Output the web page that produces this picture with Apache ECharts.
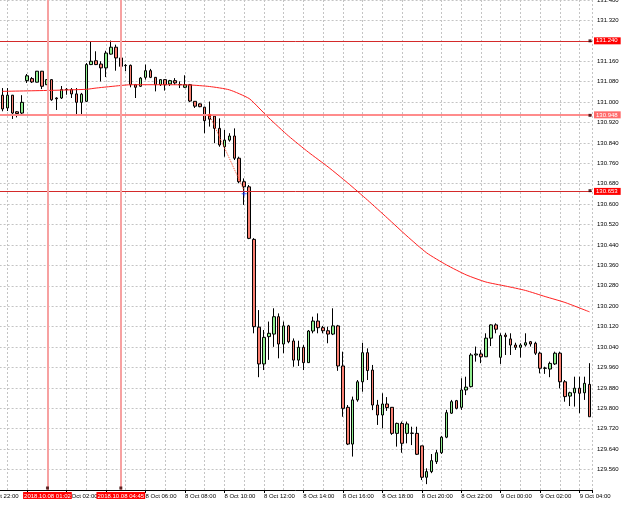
<!DOCTYPE html>
<html>
<head>
<meta charset="utf-8">
<script src="https://cdn.jsdelivr.net/npm/echarts@6/dist/echarts.min.js"></script>
<style>
  html, body { margin: 0; padding: 0; background: #fff; }
  #chart { width: 625px; height: 505px; }
</style>
</head>
<body>
<div id="chart"></div>
<script>
// M15 bars, first visible bar 2018.10.07 22:45
var firstBar = '2018.10.07 22:45';
var axisStart = '2018.10.07 22:00';

var opens = [
  131.027,130.977,131.027,130.962,130.957,131.084,131.092,131.078,131.121,131.068,
  131.088,131.016,131.016,131.049,131.049,131.032,130.999,131.003,131.147,131.162,
  131.149,131.134,131.188,131.215,131.173,131.144,131.144,131.068,131.062,131.097,
  131.123,131.097,131.068,131.088,131.071,131.084,131.068,131.058,131.068,131.003,
  130.993,130.980,130.945,130.945,130.897,130.825,130.851,130.867,130.780,130.688,
  130.668,130.462,130.118,129.974,130.081,130.091,130.159,130.052,130.123,130.064,
  129.989,130.039,129.979,130.103,130.142,130.116,130.104,130.091,130.123,129.966,
  129.804,129.660,129.833,129.904,130.018,129.950,129.813,129.774,129.817,129.804,
  129.702,129.741,129.702,129.702,129.702,129.653,129.530,129.552,129.591,129.626,
  129.687,129.781,129.830,129.804,129.872,129.885,130.009,130.013,130.002,130.075,
  130.127,130.000,130.087,130.072,130.048,130.039,130.048,130.061,130.055,130.016,
  129.957,129.954,129.974,130.016,129.904,129.848,129.861,129.879,129.861,129.894
];
var closes = [
  130.973,131.027,130.957,130.955,130.999,131.103,131.079,131.121,131.062,131.088,
  131.009,131.013,131.049,131.050,131.032,130.999,131.031,131.147,131.160,131.147,
  131.134,131.192,131.215,131.173,131.140,131.143,131.068,131.058,131.094,131.123,
  131.097,131.068,131.088,131.068,131.084,131.075,131.069,131.068,131.004,130.984,
  130.982,130.927,130.933,130.897,130.832,130.851,130.867,130.780,130.688,130.668,
  130.466,130.120,129.974,130.078,130.094,130.159,130.052,130.123,130.061,129.989,
  130.039,129.979,130.103,130.142,130.116,130.104,130.091,130.123,129.966,129.800,
  129.660,129.833,129.904,130.018,129.948,129.813,129.774,129.817,129.803,129.702,
  129.741,129.663,129.739,129.703,129.620,129.530,129.552,129.595,129.626,129.687,
  129.783,129.826,129.800,129.872,129.883,130.009,130.013,130.002,130.075,130.127,
  130.110,130.085,130.081,130.048,130.039,130.048,130.057,130.052,130.016,129.957,
  129.958,129.976,130.016,129.904,129.846,129.861,129.879,129.859,129.898,129.767
];
var highs = [
  131.055,131.055,131.028,130.965,131.027,131.110,131.098,131.122,131.122,131.090,
  131.090,131.019,131.063,131.055,131.055,131.055,131.036,131.153,131.238,131.199,
  131.160,131.201,131.241,131.225,131.177,131.149,131.147,131.071,131.098,131.147,
  131.130,131.098,131.090,131.090,131.087,131.094,131.081,131.105,131.071,131.004,
  130.995,130.982,131.002,130.949,130.936,130.891,130.878,130.897,130.786,130.701,
  130.675,130.467,130.185,130.107,130.140,130.192,130.172,130.140,130.127,130.074,
  130.065,130.048,130.107,130.159,130.172,130.123,130.120,130.192,130.127,130.022,
  129.813,129.846,129.911,130.057,130.035,129.970,129.833,129.859,129.844,129.805,
  129.744,129.748,129.748,129.728,129.728,129.653,129.565,129.621,129.637,129.692,
  129.794,129.833,129.833,129.918,129.924,130.016,130.042,130.029,130.094,130.129,
  130.133,130.094,130.096,130.094,130.057,130.055,130.094,130.064,130.061,130.022,
  129.963,129.983,130.022,130.022,129.911,129.865,129.924,129.924,129.924,129.977
];
var lows = [
  130.964,130.965,130.934,130.940,130.953,131.075,131.075,131.077,131.051,131.067,
  131.005,130.969,131.012,131.029,131.016,130.951,130.951,131.000,131.145,131.145,
  131.081,131.098,131.186,131.123,131.137,131.121,131.058,131.016,131.059,131.088,
  131.094,131.042,131.063,131.045,131.063,131.068,131.055,131.055,131.000,130.977,
  130.980,130.878,130.904,130.839,130.825,130.786,130.845,130.773,130.682,130.597,
  130.463,130.094,129.922,129.950,129.990,130.041,129.996,130.016,130.055,129.963,
  129.966,129.950,129.978,130.094,130.094,130.094,130.055,130.087,129.947,129.767,
  129.656,129.611,129.826,129.865,129.911,129.793,129.735,129.722,129.790,129.696,
  129.650,129.626,129.663,129.656,129.617,129.519,129.503,129.546,129.582,129.621,
  129.683,129.778,129.796,129.794,129.852,129.882,129.983,129.977,130.001,130.044,
  130.094,129.974,130.009,130.009,130.029,129.999,130.042,130.042,130.009,129.937,
  129.935,129.922,129.970,129.878,129.826,129.809,129.807,129.781,129.833,129.767
];

// moving average, read at some bars (bar index from firstBar)
var maBars = [0,10,17,19,24,26,33,38,42,46,50,52,54,58,62,66,70,74,78,82,86,90,94,98,102,106,110,114,119];
var maValues = [131.042,131.046,131.050,131.055,131.065,131.068,131.068,131.067,131.061,131.048,
  131.014,130.977,130.938,130.867,130.804,130.746,130.683,130.616,130.546,130.475,
  130.409,130.362,130.323,130.295,130.279,130.262,130.238,130.215,130.178];

// price levels (stop, open, take profit) and time lines
var levelPrices = [131.240, 130.948, 130.653];
var vlineTimes = ['2018.10.08 01:02', '2018.10.08 04:45'];
var tradeTimes = ['2018.10.08 09:15', '2018.10.08 11:00'];
var tradePrices = [130.948, 130.653];

var months = ['Jan','Feb','Mar','Apr','May','Jun','Jul','Aug','Sep','Oct','Nov','Dec'];
var BAR_MS = 15 * 60 * 1000;

function parseTime(s) {
  var m = s.match(/(\d+)\.(\d+)\.(\d+) (\d+):(\d+)/);
  return Date.UTC(+m[1], +m[2] - 1, +m[3], +m[4], +m[5]);
}
var t0 = parseTime(axisStart);
function toX(s) { return (parseTime(s) - t0) / BAR_MS; }
function pad(n) { return n < 10 ? '0' + n : '' + n; }

var barOffset = toX(firstBar);
var candleData = opens.map(function (o, i) {
  return [barOffset + i, o, closes[i], lows[i], highs[i]];
});
var maData = maBars.map(function (b, i) { return [barOffset + b, maValues[i]]; });
var tradeData = tradeTimes.map(function (t, i) { return [toX(t), tradePrices[i]]; });

var yMin = 129.48, yMax = 131.40, xMax = 122.5;
var font = 'Liberation Sans';

var levelStyles = [
  { line: '#d42a2a', width: 1, bg: '#ff0000' },
  { line: '#ff8c8c', width: 2, bg: '#ff6a6a' },
  { line: '#d42a2a', width: 1, bg: '#ff0000' }
];

var markData = levelPrices.map(function (p, k) {
  return {
    yAxis: p,
    lineStyle: { color: levelStyles[k].line, width: levelStyles[k].width, type: 'solid' },
    label: {
      show: true, position: 'end', distance: 2,
      formatter: p.toFixed(3),
      color: '#fff', backgroundColor: levelStyles[k].bg,
      fontSize: 6, fontFamily: font, padding: [1, 3, 0, 2]
    }
  };
}).concat(vlineTimes.map(function (t) {
  return {
    xAxis: toX(t),
    lineStyle: { color: '#f7a1a1', width: 2, type: 'solid' },
    label: {
      show: true, position: 'start', distance: 2,
      formatter: t,
      color: '#fff', backgroundColor: '#ff0000',
      fontSize: 6, fontFamily: font, padding: [1, 1, 0, 1]
    }
  };
}));

var squareData = vlineTimes.map(function (t) {
  return { value: [toX(t), yMin], symbolOffset: [0, -2] };
}).concat(levelPrices.map(function (p) {
  return { value: [xMax, p], symbolOffset: [-2, 0] };
}));

var chart = echarts.init(document.getElementById('chart'));

var option = {
  animation: false,
  backgroundColor: '#fff',
  grid: { left: -12.4, right: 33, top: 0, bottom: 15, outerBoundsMode: 'none', containLabel: false },
  xAxis: [
    {
      type: 'value', position: 'bottom', min: 0, max: xMax, interval: 4,
      axisLine: { show: true, onZero: false, lineStyle: { color: '#000', width: 1 } },
      axisTick: { show: false },
      axisLabel: { show: false },
      splitLine: { show: true, lineStyle: { color: '#c4c4c4', width: 1, type: [2, 2] } }
    },
    {
      type: 'value', position: 'bottom', min: 0, max: xMax, interval: 8,
      axisLine: { show: false, onZero: false },
      axisTick: { show: true, length: 3, lineStyle: { color: '#000' } },
      splitLine: { show: false },
      axisLabel: {
        color: '#000', fontSize: 6, fontFamily: font, margin: 3, align: 'left',
        formatter: function (v) {
          if (v % 8 !== 0) return '';
          var d = new Date(t0 + v * BAR_MS);
          return d.getUTCDate() + ' ' + months[d.getUTCMonth()] + ' ' +
            pad(d.getUTCHours()) + ':' + pad(d.getUTCMinutes());
        }
      }
    }
  ],
  yAxis: {
    type: 'value', position: 'right', min: yMin, max: yMax, interval: 0.08,
    axisLine: { show: true, lineStyle: { color: '#000', width: 1 } },
    axisTick: { show: true, length: 3, lineStyle: { color: '#000' } },
    axisLabel: {
      color: '#000', fontSize: 6, fontFamily: font, margin: 5, showMinLabel: false,
      formatter: function (v) { return v.toFixed(3); }
    },
    splitLine: { show: true, lineStyle: { color: '#c4c4c4', width: 1, type: [2, 2] } }
  },
  series: [
    {
      type: 'candlestick',
      data: candleData,
      encode: { x: 0, y: [1, 2, 3, 4] },
      barWidth: 3,
      itemStyle: {
        color: '#90ee90', color0: '#fa8072',
        borderColor: '#000', borderColor0: '#000', borderColorDoji: '#000',
        borderWidth: 1
      }
    },
    {
      type: 'line',
      data: maData,
      symbol: 'none',
      smooth: 0.2,
      lineStyle: { color: '#ff2020', width: 1 },
      markLine: { silent: true, symbol: ['none', 'none'], data: markData }
    },
    {
      type: 'line',
      data: tradeData,
      symbol: 'none',
      lineStyle: { color: '#ff4a2a', width: 1, type: 'dotted' },
      z: 4
    },
    {
      type: 'scatter',
      data: [
        { value: tradeData[0], symbol: 'diamond', symbolSize: 4, itemStyle: { color: '#ff2a1a' } },
        { value: tradeData[1], symbol: 'path://M2,0H3V2H5V3H3V5H2V3H0V2H2Z', symbolSize: 5, symbolOffset: [0, 3], itemStyle: { color: '#1a3cff' } }
      ],
      z: 5
    },
    {
      type: 'scatter',
      data: squareData,
      symbol: 'rect',
      symbolSize: 3,
      clip: false,
      itemStyle: { color: '#300' },
      z: 6
    }
  ]
};

chart.setOption(option);
window.addEventListener('resize', function () { chart.resize(); });
</script>
</body>
</html>
